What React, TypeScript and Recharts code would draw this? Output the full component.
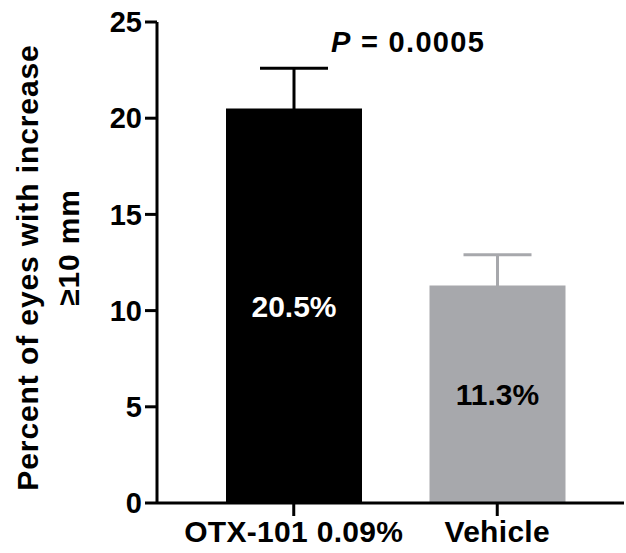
import React from 'react';
import { BarChart, Bar, XAxis, YAxis, ErrorBar, Cell, LabelList } from 'recharts';

const categories = ['OTX-101 0.09%', 'Vehicle'];
const values = [20.5, 11.3];
const errorsUp = [2.1, 1.6];
const valueLabels = ['20.5%', '11.3%'];
const barColors = ['#000000', '#a7a8ac'];
const labelColors = ['#ffffff', '#000000'];
const yTicks = [0, 5, 10, 15, 20, 25];
const pText = '= 0.0005';
const yLabelLines = ['Percent of eyes with increase', '≥10 mm'];

const data = categories.map((c, i) => ({
  name: c,
  value: values[i],
  label: valueLabels[i],
  errA: i === 0 ? [0.15, errorsUp[i]] : null,
  errB: i === 1 ? [0.15, errorsUp[i]] : null,
}));

const FONT = 'Arial, "Liberation Sans", Helvetica, sans-serif';

const YLabel = (props: any) => {
  const vb = props.viewBox || {};
  const cy = vb.y + vb.height / 2;
  return (
    <g>
      <text x={38} y={cy + 5} transform={`rotate(-90, 38, ${cy + 5})`} textAnchor="middle"
        fontFamily={FONT} fontWeight="bold" fontSize={30} letterSpacing={0.9} fill="#000">
        {yLabelLines[0]}
      </text>
      <text x={79} y={cy - 15} transform={`rotate(-90, 79, ${cy - 15})`} textAnchor="middle"
        fontFamily={FONT} fontWeight="bold" fontSize={30} letterSpacing={0.9} fill="#000">
        {yLabelLines[1]}
      </text>
    </g>
  );
};

const BarLabel = (props: any) => {
  const { x, y, width, height, index } = props;
  return (
    <text x={x + width / 2} y={y + height / 2} dy="0.36em" textAnchor="middle"
      fontFamily={FONT} fontWeight="bold" fontSize={30} fill={labelColors[index]}>
      {valueLabels[index]}
    </text>
  );
};

export default function App() {
  return (
    <div style={{ position: 'absolute', left: 0, top: 0, width: 626, height: 553, background: '#fff' }}>
      <BarChart width={626} height={553} data={data} margin={{ top: 22, right: 2, bottom: 0, left: 0 }}>
        <XAxis dataKey="name" height={50} padding={{ left: 35, right: 25 }}
          axisLine={{ stroke: '#000', strokeWidth: 3 }} tickLine={{ stroke: '#000', strokeWidth: 3 }}
          tickSize={13} tickMargin={5}
          tick={{ fill: '#000', fontFamily: FONT, fontWeight: 'bold', fontSize: 30, letterSpacing: 0.3 }} />
        <YAxis domain={[0, 25]} ticks={yTicks} width={157} interval={0}
          axisLine={{ stroke: '#000', strokeWidth: 3 }} tickLine={{ stroke: '#000', strokeWidth: 3 }}
          tickSize={12} tickMargin={3}
          tick={{ fill: '#000', fontFamily: FONT, fontWeight: 'bold', fontSize: 29 }}
          label={<YLabel />} />
        <Bar dataKey="value" barSize={136} isAnimationActive={false}>
          {data.map((d, i) => <Cell key={i} fill={barColors[i]} />)}
          <ErrorBar dataKey="errA" width={34} stroke="#000" strokeWidth={3} direction="y" />
          <ErrorBar dataKey="errB" width={34} stroke="#a7a8ac" strokeWidth={3} direction="y" />
          <LabelList dataKey="label" content={<BarLabel />} />
        </Bar>
      </BarChart>
      <svg width={626} height={553} style={{ position: 'absolute', left: 0, top: 0, pointerEvents: 'none' }}>
        <text x={331} y={52} fontFamily={FONT} fontWeight="bold" fontSize={29} letterSpacing={1.3} fill="#000">
          <tspan fontStyle="italic">P</tspan> {pText}
        </text>
      </svg>
    </div>
  );
}
